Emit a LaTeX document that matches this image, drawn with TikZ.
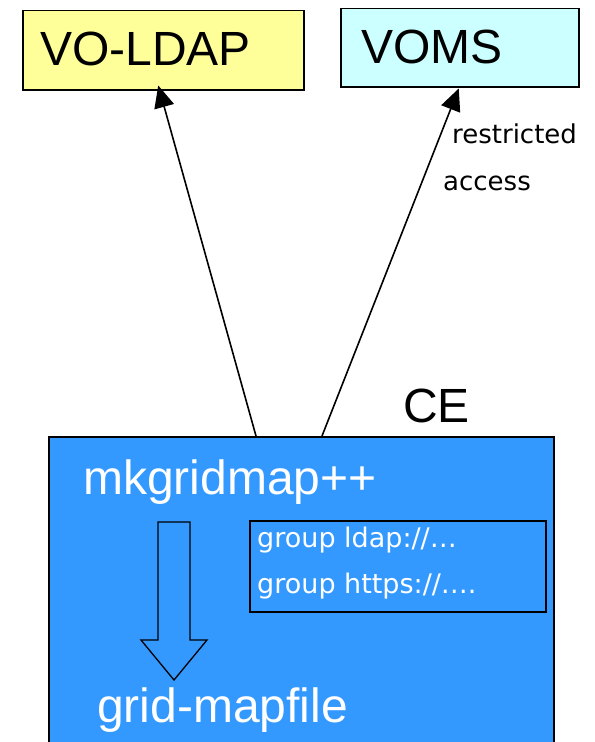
\documentclass[tikz,border=0pt]{standalone}
\usepackage{fontspec}
\setmainfont{Liberation Sans}
\newfontfamily\dvfont{DejaVu Sans}
\usetikzlibrary{arrows.meta,calc}
\definecolor{ldapyellow}{HTML}{FFFF99}
\definecolor{vomscyan}{HTML}{CCFFFF}
\definecolor{ceblue}{HTML}{3399FF}
\begin{document}
\begin{tikzpicture}[x=1bp,y=-1bp,
  box/.style={draw=black,line width=1.5bp,inner sep=0pt,anchor=north west},
  bigtxt/.style={font=\fontsize{48bp}{48bp}\selectfont,inner sep=0pt,anchor=base west},
  smalltxt/.style={font=\dvfont\fontsize{27bp}{27bp}\selectfont,inner sep=0pt,anchor=base west},
  labtxt/.style={font=\dvfont\fontsize{26bp}{26bp}\selectfont,inner sep=0pt,anchor=base west},
  conn/.style={line width=1.6bp,-{Triangle[length=22bp,width=20bp]}}]
\useasboundingbox (0,0) rectangle (595,742);
\clip (0,0) rectangle (595,742);
% top boxes
\node[box,fill=ldapyellow,minimum width=281bp,minimum height=79bp] (ldap) at (22,10) {};
\node[box,fill=vomscyan,minimum width=238bp,minimum height=78bp] (voms) at (340,8) {};
\node[bigtxt] (ldaptxt) at (40,66) {VO-LDAP};
\node[bigtxt] (vomstxt) at (361,64) {VOMS};
% CE box
\node[box,fill=ceblue,minimum width=505bp,minimum height=320bp] (ce) at (48,436) {};
\node[bigtxt] (cetxt) at (403,422) {CE};
\coordinate (a1) at (256,436);
\coordinate (a2) at (322,436);
\coordinate (t1) at ($(ldap.south)+(-5,-5)$);
\coordinate (t2) at ($(voms.south)+(-1,1)$);
\draw[conn] (a1) -- (t1);
\draw[conn] (a2) -- (t2);
\node[labtxt] (r1) at (452,143) {restricted};
\node[labtxt] (r2) at (443,190) {access};
% inside CE
\node[bigtxt,text=white] (mk) at (83,494) {mkgridmap++};
\node[box,fill=ceblue,minimum width=296bp,minimum height=91bp] (inner) at (249,520) {};
\node[smalltxt,text=white] (g1) at (257,547) {group ldap://…};
\node[smalltxt,text=white] (g2) at (257,593) {group https://….};
\draw[line width=1.3bp,fill=ceblue] (158,522) -- (190,522) -- (190,640) -- (207,640) -- (174,680) -- (141,640) -- (158,640) -- cycle;
\node[bigtxt,text=white] (gm) at (97,722) {grid-mapfile};
\end{tikzpicture}
\end{document}
